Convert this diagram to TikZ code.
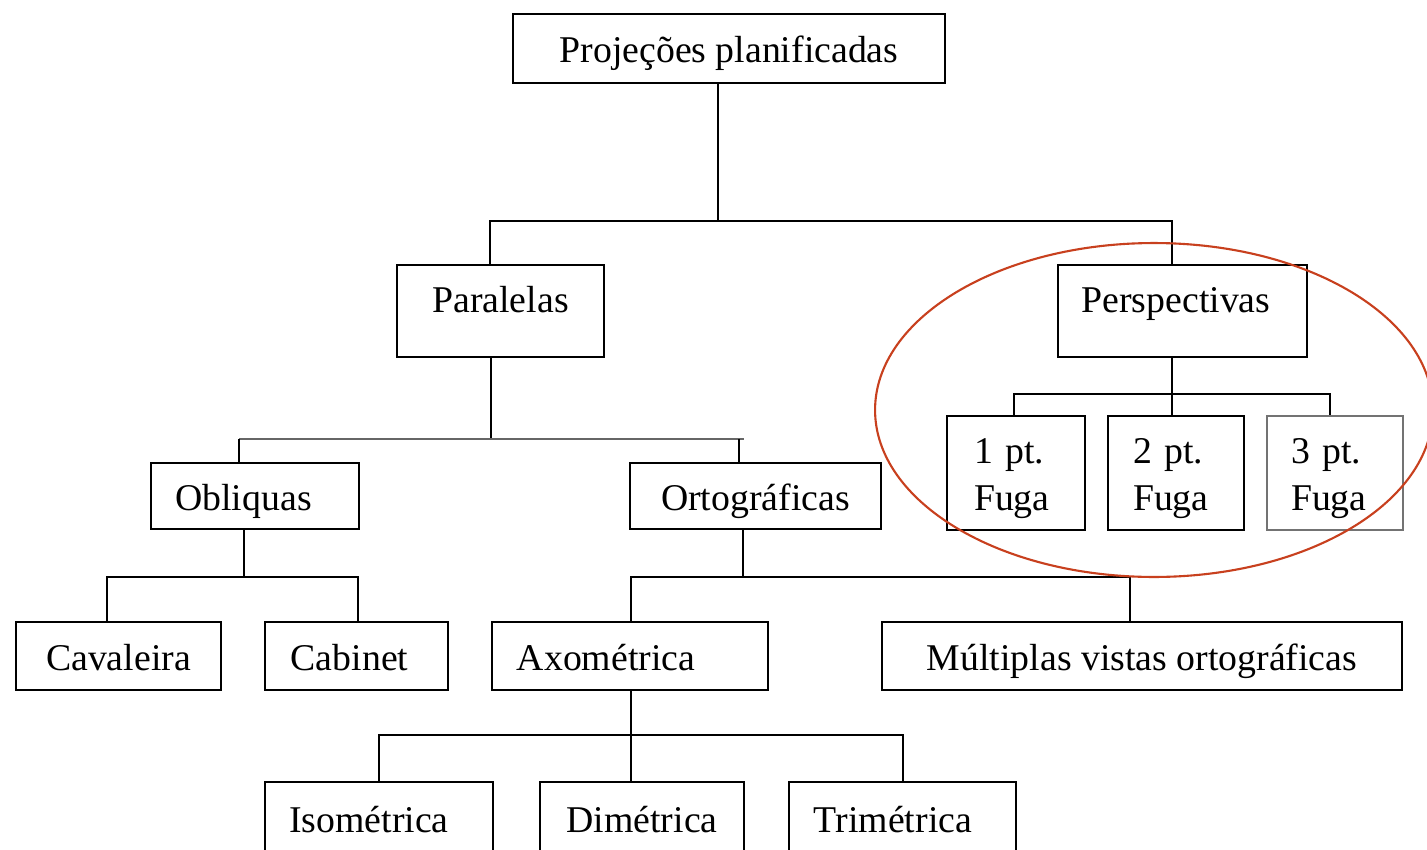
\documentclass[tikz,border=0pt]{standalone}
\usepackage{fontspec}
\setmainfont{Liberation Serif}
\definecolor{ringred}{RGB}{200,64,30}
\begin{document}
\begin{tikzpicture}[x=0.02cm,y=-0.02cm,
  box/.style={draw=black, line width=1.1pt, inner sep=0pt, font=\fontsize{21.5}{27}\selectfont},
  one/.style={text height=0.66cm, text depth=0.10cm},
  high/.style={text height=0.66cm, text depth=0.62cm},
  two/.style={align=left},
  conn/.style={line width=1.1pt, draw=black},
  ring/.style={draw=ringred, line width=1.2pt}]
\clip (0,0) rectangle (1427,849);
\fill[white] (0,0) rectangle (1427,849);

% nodes
\node[box,one,minimum width=8.64cm,minimum height=1.38cm] (top) at (729,48.5) {Projeções planificadas};
\node[box,high,minimum width=4.14cm,minimum height=1.84cm] (par) at (500.5,311) {Paralelas};
\node[box,high,minimum width=4.98cm,minimum height=1.84cm] (per) at (1182.5,311) {Perspectivas\hspace*{0.26cm}};
\node[box,two,text width=1.68cm,minimum width=2.76cm,minimum height=2.28cm] (f1) at (1016,473) {\rule{0pt}{0.72cm}1 pt.\\Fuga};
\node[box,two,text width=1.72cm,minimum width=2.72cm,minimum height=2.28cm] (f2) at (1176,473) {\rule{0pt}{0.72cm}2 pt.\\Fuga};
\node[box,two,draw=black!55,text width=1.76cm,minimum width=2.72cm,minimum height=2.28cm] (f3) at (1335,473) {\rule{0pt}{0.72cm}3 pt.\\Fuga};
\node[box,one,minimum width=4.16cm,minimum height=1.32cm] (obl) at (255,496) {Obliquas\hspace*{0.46cm}};
\node[box,one,minimum width=5.02cm,minimum height=1.32cm] (ort) at (755.5,496) {Ortográficas};
\node[box,one,minimum width=4.10cm,minimum height=1.36cm] (cav) at (118.5,656) {Cavaleira};
\node[box,one,minimum width=3.66cm,minimum height=1.36cm] (cab) at (356.5,656) {Cabinet\hspace*{0.28cm}};
\node[box,one,minimum width=5.52cm,minimum height=1.36cm] (axo) at (630,656) {Axométrica\hspace*{0.96cm}};
\node[box,one,minimum width=10.4cm,minimum height=1.36cm] (mul) at (1142,656) {Múltiplas vistas ortográficas};
\node[box,one,minimum width=4.56cm,minimum height=1.44cm] (iso) at (379,818) {Isométrica\hspace*{0.4cm}};
\node[box,one,minimum width=4.08cm,minimum height=1.44cm] (dim) at (642,818) {Dimétrica};
\node[box,one,minimum width=4.54cm,minimum height=1.44cm] (tri) at (902.5,818) {Trimétrica\hspace*{0.38cm}};

% junction points
\coordinate (j0) at (718,221);
\coordinate (jp) at (490,221);
\coordinate (jq) at (1172,221);
\coordinate (k0) at (491,439);
\coordinate (kl) at (239,439);
\coordinate (kr) at (739,439);
\coordinate (m0) at (1172,394);
\coordinate (ml) at (1014,394);
\coordinate (mr) at (1330,394);
\coordinate (n0) at (244,577);
\coordinate (nl) at (107,577);
\coordinate (nr) at (358,577);
\coordinate (o0) at (743,577);
\coordinate (ol) at (631,577);
\coordinate (or) at (1130,577);
\coordinate (p0) at (631,735);
\coordinate (pl) at (379,735);
\coordinate (pr) at (903,735);

% connectors
\draw[conn] (top.south -| j0) -- (j0);
\draw[conn] (par.north -| jp) -- (jp) -- (jq) -- (per.north -| jq);

\draw[conn] (par.south -| k0) -- (k0);
\draw[conn,draw=black!60] (kl) -- ([xshift=0.1cm]kr);
\draw[conn] (obl.north -| kl) -- (kl);
\draw[conn] (ort.north -| kr) -- (kr);

\draw[conn] (per.south -| m0) -- (m0);
\draw[conn] (f1.north -| ml) -- (ml) -- (mr) -- (f3.north -| mr);
\draw[conn] (f2.north -| m0) -- (m0);

\draw[conn] (obl.south -| n0) -- (n0);
\draw[conn] (cav.north -| nl) -- (nl) -- (nr) -- (cab.north -| nr);

\draw[conn] (ort.south -| o0) -- (o0);
\draw[conn] (axo.north -| ol) -- (ol) -- (or) -- (mul.north -| or);

\draw[conn] (axo.south -| p0) -- (p0);
\draw[conn] (iso.north -| pl) -- (pl) -- (pr) -- (tri.north -| pr);
\draw[conn] (dim.north -| p0) -- (p0);

% highlight ring
\draw[ring] (1154,410) ellipse [x radius=5.58cm, y radius=3.34cm];
\end{tikzpicture}
\end{document}
